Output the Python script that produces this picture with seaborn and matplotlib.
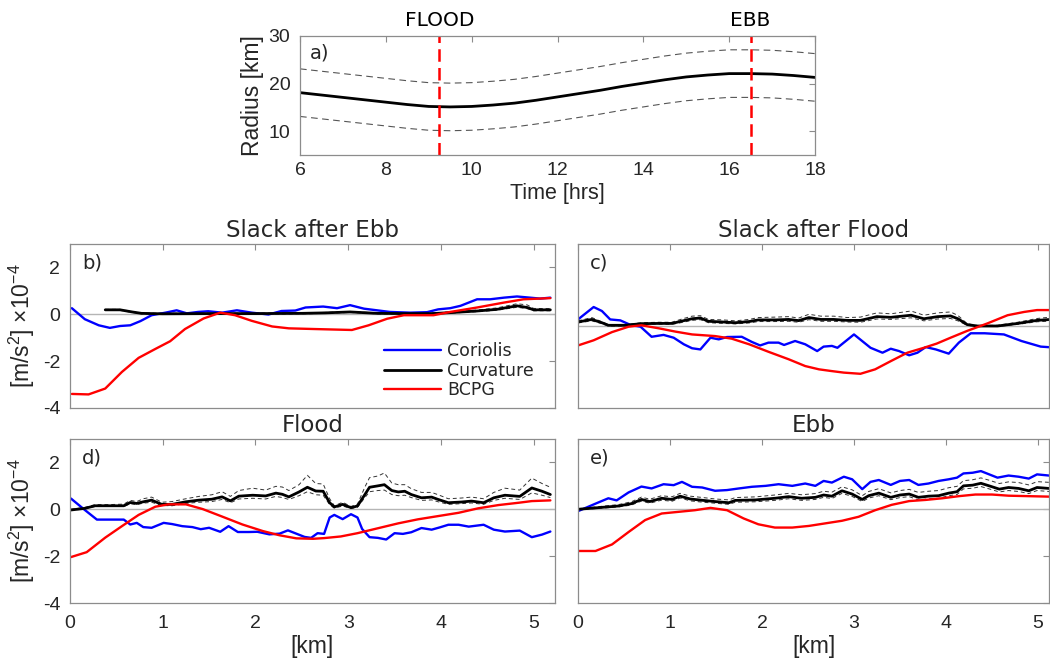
import matplotlib
matplotlib.use("Agg")
import matplotlib.pyplot as plt
import seaborn as sns

# ---------------- data ----------------
# panel a: radius vs time
time_hrs = [6.0, 6.5, 7.0, 7.5, 8.0, 8.5, 9.0, 9.5, 10.0, 10.5, 11.0, 11.5, 12.0,
            12.5, 13.0, 13.5, 14.0, 14.5, 15.0, 15.5, 16.0, 16.5, 17.0, 17.5, 18.0]
radius = [18.1, 17.6, 17.1, 16.6, 16.1, 15.6, 15.2, 15.1, 15.2, 15.5, 15.9, 16.5, 17.2,
          17.9, 18.6, 19.4, 20.1, 20.8, 21.4, 21.8, 22.1, 22.1, 22.0, 21.7, 21.3]
radius_upper = [23.1, 22.6, 22.1, 21.6, 21.1, 20.6, 20.2, 20.1, 20.2, 20.5, 20.9, 21.5, 22.2,
                22.9, 23.6, 24.4, 25.1, 25.8, 26.4, 26.8, 27.1, 27.1, 27.0, 26.7, 26.3]
radius_lower = [13.1, 12.6, 12.1, 11.6, 11.1, 10.6, 10.2, 10.1, 10.2, 10.5, 10.9, 11.5, 12.2,
                12.9, 13.6, 14.4, 15.1, 15.8, 16.4, 16.8, 17.1, 17.1, 17.0, 16.7, 16.3]
phase_times = [9.25, 16.5]
phase_labels = ["FLOOD", "EBB"]

# panel b: Slack after Ebb
b_cor_x = [0.02, 0.16, 0.31, 0.43, 0.54, 0.65, 0.76, 0.88, 1.03, 1.15, 1.26, 1.38, 1.49, 1.64, 1.8,
           1.96, 2.14, 2.28, 2.43, 2.54, 2.73, 2.88, 3.02, 3.17, 3.31, 3.45, 3.67, 3.85, 3.97, 4.1,
           4.21, 4.39, 4.53, 4.68, 4.82, 4.96, 5.07, 5.18]
b_cor = [0.26, -0.21, -0.47, -0.58, -0.5, -0.47, -0.29, -0.04, 0.07, 0.17, 0.04, 0.1, 0.13, 0.07, 0.17,
         0.07, -0.01, 0.14, 0.16, 0.29, 0.33, 0.26, 0.39, 0.24, 0.17, 0.1, 0.07, 0.09, 0.21, 0.26,
         0.36, 0.64, 0.64, 0.71, 0.76, 0.71, 0.67, 0.71]
b_bcpg_x = [0.02, 0.2, 0.38, 0.56, 0.74, 0.92, 1.08, 1.24, 1.44, 1.62, 1.78, 1.96, 2.18, 2.36, 2.64,
            3.04, 3.22, 3.42, 3.6, 3.92, 4.1, 4.39, 4.68, 4.89, 5.18]
b_bcpg = [-3.4, -3.42, -3.17, -2.46, -1.86, -1.48, -1.15, -0.63, -0.18, 0.07, -0.04, -0.28, -0.52, -0.6, -0.63,
          -0.67, -0.47, -0.19, -0.04, -0.04, 0.1, 0.29, 0.5, 0.64, 0.69]
b_curv_x = [0.38, 0.54, 0.67, 0.77, 1.0, 1.5, 2.0, 2.5, 2.75, 3.02, 3.31, 3.6, 3.9, 4.1, 4.39,
            4.6, 4.82, 4.93, 5.0, 5.18]
b_curv = [0.19, 0.19, 0.1, 0.04, 0.02, 0.03, 0.03, 0.04, 0.06, 0.1, 0.04, 0.03, 0.03, 0.07, 0.14,
          0.21, 0.36, 0.29, 0.19, 0.19]
b_curv_up = [0.21, 0.21, 0.12, 0.06, 0.04, 0.05, 0.05, 0.06, 0.08, 0.12, 0.06, 0.05, 0.05, 0.1, 0.18,
             0.27, 0.45, 0.4, 0.25, 0.24]
b_curv_lo = [0.17, 0.17, 0.08, 0.02, 0.0, 0.01, 0.01, 0.02, 0.04, 0.08, 0.02, 0.01, 0.01, 0.05, 0.11,
             0.17, 0.3, 0.24, 0.15, 0.15]

# panel c: Slack after Flood
c_cor_x = [0.0, 0.17, 0.26, 0.35, 0.46, 0.58, 0.68, 0.8, 0.93, 1.04, 1.15, 1.24, 1.33, 1.44, 1.53,
           1.62, 1.78, 1.89, 1.98, 2.07, 2.18, 2.24, 2.36, 2.47, 2.6, 2.67, 2.76, 2.82, 3.0, 3.18,
           3.31, 3.4, 3.49, 3.6, 3.69, 3.78, 3.89, 4.03, 4.14, 4.27, 4.42, 4.63, 4.82, 5.03, 5.14]
c_cor = [0.28, 0.81, 0.64, 0.28, 0.24, 0.03, -0.03, -0.46, -0.38, -0.5, -0.78, -0.95, -1.0, -0.5, -0.57,
         -0.47, -0.46, -0.68, -0.83, -0.71, -0.71, -0.81, -0.64, -0.78, -1.07, -0.88, -0.85, -0.93, -0.36, -0.93,
         -1.14, -0.97, -1.07, -1.25, -1.14, -0.9, -1.0, -1.18, -0.71, -0.31, -0.31, -0.36, -0.64, -0.88, -0.91]
c_bcpg_x = [0.0, 0.17, 0.37, 0.55, 0.69, 0.88, 1.06, 1.24, 1.49, 1.67, 1.86, 2.07, 2.29, 2.47, 2.62,
            2.75, 2.89, 3.07, 3.23, 3.4, 3.58, 3.76, 3.9, 4.05, 4.23, 4.45, 4.67, 4.85, 4.99, 5.14]
c_bcpg = [-0.83, -0.61, -0.26, -0.03, 0.03, -0.1, -0.24, -0.36, -0.43, -0.54, -0.78, -1.1, -1.42, -1.71, -1.85,
          -1.92, -1.99, -2.04, -1.85, -1.5, -1.14, -0.93, -0.75, -0.5, -0.21, 0.11, 0.46, 0.6, 0.68, 0.68]
c_curv_x = [0.0, 0.15, 0.26, 0.33, 0.51, 0.69, 0.88, 1.02, 1.13, 1.24, 1.33, 1.42, 1.58, 1.71, 1.86,
            1.96, 2.15, 2.29, 2.4, 2.51, 2.64, 2.78, 2.93, 3.07, 3.25, 3.4, 3.62, 3.76, 3.91, 4.05,
            4.13, 4.23, 4.34, 4.56, 4.78, 4.99, 5.14]
c_curv = [0.17, 0.28, 0.14, 0.03, 0.03, 0.1, 0.11, 0.11, 0.21, 0.31, 0.34, 0.2, 0.17, 0.14, 0.19,
          0.26, 0.26, 0.28, 0.23, 0.36, 0.28, 0.28, 0.24, 0.24, 0.4, 0.37, 0.46, 0.31, 0.4, 0.43,
          0.31, 0.06, 0.0, 0.0, 0.11, 0.24, 0.28]
c_curv_up = [0.22, 0.36, 0.18, 0.06, 0.06, 0.14, 0.16, 0.16, 0.3, 0.42, 0.44, 0.28, 0.26, 0.22, 0.28,
             0.36, 0.38, 0.4, 0.34, 0.5, 0.42, 0.42, 0.36, 0.38, 0.56, 0.52, 0.64, 0.46, 0.56, 0.6,
             0.45, 0.1, 0.02, 0.03, 0.16, 0.32, 0.38]
c_curv_lo = [0.13, 0.22, 0.1, 0.0, 0.0, 0.07, 0.08, 0.07, 0.15, 0.24, 0.27, 0.14, 0.11, 0.09, 0.13,
             0.19, 0.19, 0.2, 0.16, 0.27, 0.2, 0.2, 0.17, 0.16, 0.3, 0.28, 0.35, 0.22, 0.3, 0.32,
             0.22, 0.03, -0.02, -0.02, 0.07, 0.18, 0.21]

# panel d: Flood
d_cor_x = [0.01, 0.16, 0.29, 0.42, 0.58, 0.65, 0.72, 0.79, 0.88, 1.01, 1.1, 1.21, 1.32, 1.41, 1.5,
           1.62, 1.71, 1.81, 1.93, 2.02, 2.15, 2.26, 2.35, 2.44, 2.53, 2.6, 2.67, 2.74, 2.8, 2.85,
           2.94, 3.03, 3.1, 3.15, 3.23, 3.32, 3.41, 3.5, 3.59, 3.68, 3.79, 3.9, 3.99, 4.08, 4.19,
           4.3, 4.46, 4.57, 4.69, 4.85, 4.98, 5.09, 5.18]
d_cor = [0.46, -0.03, -0.44, -0.44, -0.44, -0.65, -0.58, -0.76, -0.79, -0.58, -0.63, -0.72, -0.76, -0.85, -0.79,
         -0.96, -0.72, -0.97, -0.97, -0.96, -1.07, -1.04, -0.9, -1.04, -1.18, -1.22, -1.02, -1.05, -0.35, -0.24,
         -0.42, -0.21, -0.35, -0.84, -1.19, -1.22, -1.29, -1.02, -1.05, -0.98, -0.8, -0.87, -0.77, -0.66, -0.66,
         -0.74, -0.66, -0.87, -0.95, -0.91, -1.19, -1.08, -0.95]
d_bcpg_x = [0.01, 0.18, 0.38, 0.56, 0.74, 0.92, 1.06, 1.25, 1.43, 1.64, 1.86, 2.08, 2.26, 2.44, 2.62,
            2.74, 2.92, 3.1, 3.32, 3.54, 3.75, 3.97, 4.19, 4.4, 4.62, 4.84, 4.98, 5.18]
d_bcpg = [-2.04, -1.83, -1.21, -0.72, -0.24, 0.11, 0.21, 0.21, 0.01, -0.31, -0.65, -0.93, -1.11, -1.24, -1.26,
          -1.23, -1.16, -1.02, -0.81, -0.6, -0.43, -0.29, -0.15, 0.04, 0.18, 0.28, 0.35, 0.38]
d_curv_x = [0.01, 0.16, 0.27, 0.42, 0.58, 0.65, 0.72, 0.79, 0.88, 0.99, 1.1, 1.25, 1.39, 1.53, 1.64,
            1.73, 1.82, 1.97, 2.11, 2.22, 2.29, 2.36, 2.47, 2.56, 2.65, 2.73, 2.8, 2.85, 2.94, 3.03,
            3.1, 3.18, 3.23, 3.32, 3.39, 3.47, 3.54, 3.61, 3.68, 3.79, 3.9, 3.97, 4.08, 4.22, 4.33,
            4.46, 4.57, 4.69, 4.85, 4.98, 5.09, 5.18]
d_curv = [-0.03, 0.04, 0.15, 0.15, 0.15, 0.29, 0.25, 0.32, 0.39, 0.21, 0.21, 0.32, 0.39, 0.43, 0.53,
          0.36, 0.56, 0.6, 0.57, 0.69, 0.64, 0.53, 0.74, 0.94, 0.78, 0.77, 0.28, 0.1, 0.21, 0.07,
          0.14, 0.63, 0.94, 1.0, 1.05, 0.8, 0.74, 0.77, 0.63, 0.49, 0.52, 0.42, 0.28, 0.31, 0.35,
          0.28, 0.49, 0.6, 0.55, 0.91, 0.77, 0.63]
d_curv_up = [0.0, 0.08, 0.2, 0.2, 0.22, 0.38, 0.33, 0.45, 0.52, 0.3, 0.33, 0.45, 0.55, 0.62, 0.75,
             0.55, 0.8, 0.9, 0.82, 0.98, 0.95, 0.8, 1.05, 1.45, 1.1, 1.08, 0.45, 0.15, 0.3, 0.12,
             0.22, 0.95, 1.35, 1.42, 1.55, 1.12, 1.05, 1.05, 0.88, 0.72, 0.72, 0.62, 0.45, 0.48, 0.52,
             0.45, 0.72, 0.9, 0.82, 1.33, 1.1, 0.94]
d_curv_lo = [-0.05, 0.02, 0.12, 0.12, 0.12, 0.24, 0.2, 0.26, 0.3, 0.16, 0.15, 0.25, 0.3, 0.33, 0.42,
             0.28, 0.44, 0.47, 0.44, 0.55, 0.5, 0.42, 0.58, 0.75, 0.62, 0.6, 0.2, 0.05, 0.14, 0.03,
             0.09, 0.5, 0.75, 0.8, 0.82, 0.63, 0.58, 0.6, 0.5, 0.38, 0.4, 0.32, 0.21, 0.24, 0.27,
             0.21, 0.38, 0.47, 0.42, 0.7, 0.6, 0.5]

# panel e: Ebb
e_cor_x = [0.0, 0.19, 0.33, 0.42, 0.55, 0.69, 0.8, 0.93, 1.04, 1.13, 1.24, 1.35, 1.49, 1.62, 1.75,
           1.89, 2.04, 2.18, 2.33, 2.47, 2.58, 2.67, 2.76, 2.89, 2.98, 3.09, 3.18, 3.27, 3.4, 3.5,
           3.6, 3.7, 3.81, 3.92, 4.03, 4.12, 4.19, 4.29, 4.38, 4.47, 4.56, 4.68, 4.79, 4.9, 4.99, 5.12]
e_cor = [-0.08, 0.24, 0.47, 0.38, 0.72, 0.97, 0.89, 1.07, 1.03, 1.17, 0.96, 0.93, 0.79, 0.82, 0.89,
         0.96, 1.0, 1.07, 1.0, 1.1, 1.0, 1.21, 1.14, 1.39, 1.28, 0.86, 1.17, 1.25, 1.04, 1.21,
         1.25, 1.04, 1.1, 1.21, 1.28, 1.35, 1.53, 1.56, 1.63, 1.49, 1.35, 1.44, 1.39, 1.31, 1.49, 1.44]
e_bcpg_x = [0.0, 0.19, 0.37, 0.55, 0.73, 0.91, 1.09, 1.27, 1.44, 1.62, 1.8, 1.96, 2.14, 2.33, 2.51,
            2.69, 2.87, 3.05, 3.23, 3.41, 3.6, 3.78, 3.96, 4.14, 4.32, 4.5, 4.68, 4.9, 5.12]
e_bcpg = [-1.78, -1.78, -1.5, -0.97, -0.46, -0.18, -0.11, -0.04, 0.06, -0.04, -0.39, -0.64, -0.78, -0.78, -0.71,
          -0.6, -0.49, -0.32, -0.04, 0.19, 0.35, 0.4, 0.47, 0.56, 0.63, 0.63, 0.58, 0.56, 0.54]
e_curv_x = [0.0, 0.19, 0.44, 0.58, 0.69, 0.78, 0.91, 1.02, 1.11, 1.22, 1.36, 1.49, 1.64, 1.71, 1.93,
            2.14, 2.29, 2.43, 2.58, 2.67, 2.76, 2.87, 2.98, 3.09, 3.16, 3.27, 3.4, 3.5, 3.6, 3.7,
            3.81, 3.92, 4.03, 4.12, 4.19, 4.29, 4.38, 4.47, 4.58, 4.68, 4.79, 4.9, 4.99, 5.12]
e_curv = [0.0, 0.06, 0.14, 0.24, 0.42, 0.33, 0.47, 0.42, 0.56, 0.44, 0.38, 0.33, 0.28, 0.38, 0.4,
          0.47, 0.54, 0.47, 0.51, 0.61, 0.56, 0.79, 0.65, 0.42, 0.58, 0.69, 0.51, 0.61, 0.65, 0.51,
          0.56, 0.58, 0.69, 0.75, 1.0, 1.03, 1.11, 1.0, 0.86, 0.93, 0.89, 0.79, 0.93, 0.89]
e_curv_up = [0.02, 0.1, 0.2, 0.32, 0.52, 0.43, 0.58, 0.53, 0.68, 0.56, 0.5, 0.44, 0.4, 0.5, 0.53,
             0.61, 0.68, 0.62, 0.67, 0.77, 0.73, 0.96, 0.83, 0.58, 0.76, 0.88, 0.7, 0.8, 0.85, 0.72,
             0.77, 0.8, 0.92, 0.98, 1.22, 1.26, 1.34, 1.24, 1.1, 1.17, 1.14, 1.04, 1.18, 1.15]
e_curv_lo = [-0.02, 0.03, 0.1, 0.18, 0.35, 0.26, 0.39, 0.34, 0.48, 0.36, 0.3, 0.26, 0.21, 0.3, 0.32,
             0.38, 0.45, 0.38, 0.42, 0.51, 0.46, 0.68, 0.55, 0.33, 0.48, 0.58, 0.41, 0.5, 0.54, 0.4,
             0.45, 0.47, 0.58, 0.63, 0.87, 0.9, 0.97, 0.87, 0.74, 0.8, 0.76, 0.67, 0.8, 0.76]

panel_titles = ["Slack after Ebb", "Slack after Flood", "Flood", "Ebb"]
panel_letters = ["b)", "c)", "d)", "e)"]
series_names = ["Coriolis", "Curvature", "BCPG"]

# ---------------- style ----------------
sns.set_style("white")
plt.rcParams["font.family"] = ["Liberation Sans", "DejaVu Sans"]
plt.rcParams["mathtext.default"] = "regular"
plt.rcParams["axes.unicode_minus"] = False

SPINE = "#8c8c8c"
TXT = "#262626"
BLUE = "#0000ff"
RED = "#ff0000"

fig = plt.figure(figsize=(10.5, 6.66), dpi=100)
W, H = 1050.0, 666.0


def box(l, t, r, b):
    return [l / W, 1 - b / H, (r - l) / W, (b - t) / H]


def style_axes(ax, ylabels=True, xlabels=True, yt=True):
    for s in ax.spines.values():
        s.set_color(SPINE)
        s.set_linewidth(0.9)
    ax.tick_params(direction="in", length=4, width=0.8, color=SPINE, top=True, right=True,
                   labelsize=14, labelcolor=TXT, pad=7,
                   labelbottom=xlabels, labelleft=ylabels)
    if not yt:
        ax.tick_params(axis="y", length=0)


def dline(ax, x, y, color, lw, dash=None):
    sns.lineplot(x=x, y=y, ax=ax, color=color, lw=lw, sort=False, estimator=None,
                 legend=False)
    ln = ax.lines[-1]
    if dash is not None:
        ln.set_dashes(dash)
    return ln


# ---------------- panel a ----------------
axa = fig.add_axes(box(300, 36, 815, 155))
dline(axa, time_hrs, radius_upper, "#555555", 0.8, (6, 4))
dline(axa, time_hrs, radius_lower, "#555555", 0.8, (6, 4))
dline(axa, time_hrs, radius, "black", 2.0)
for t, lab in zip(phase_times, phase_labels):
    axa.axvline(t, color=RED, lw=1.8, dashes=(5, 2.5))
    axa.text(t, 1.05, lab, transform=axa.get_xaxis_transform(), ha="center", va="bottom",
             fontsize=14.5, family="DejaVu Sans", color="black")
axa.set_xlim(6, 18)
axa.set_ylim(5, 30)
axa.set_xticks([6, 8, 10, 12, 14, 16, 18])
axa.set_yticks([10, 20, 30])
style_axes(axa)
axa.tick_params(axis="x", pad=5)
axa.set_xlabel("Time [hrs]", fontsize=15.5, color=TXT, labelpad=3)
axa.set_ylabel("Radius [km]", fontsize=16.5, color=TXT, labelpad=3)
axa.text(0.02, 0.86, "a)", transform=axa.transAxes, fontsize=14, family="DejaVu Sans",
         va="center", ha="left")

# ---------------- panels b-e ----------------
panels = [
    dict(box=(70, 244, 555, 408), xlim=(0, 5.23), ylim=(-4, 3),
         cor=(b_cor_x, b_cor), bcpg=(b_bcpg_x, b_bcpg),
         curv=(b_curv_x, b_curv, b_curv_up, b_curv_lo), ylab=True, xlab=False, yt=True),
    dict(box=(578, 244, 1049, 408), xlim=(0, 5.12), ylim=(-3.5, 3.5),
         cor=(c_cor_x, c_cor), bcpg=(c_bcpg_x, c_bcpg),
         curv=(c_curv_x, c_curv, c_curv_up, c_curv_lo), ylab=False, xlab=False, yt=False),
    dict(box=(70, 439, 555, 603), xlim=(0, 5.23), ylim=(-4, 3),
         cor=(d_cor_x, d_cor), bcpg=(d_bcpg_x, d_bcpg),
         curv=(d_curv_x, d_curv, d_curv_up, d_curv_lo), ylab=True, xlab=True, yt=True),
    dict(box=(578, 439, 1049, 603), xlim=(0, 5.12), ylim=(-4, 3),
         cor=(e_cor_x, e_cor), bcpg=(e_bcpg_x, e_bcpg),
         curv=(e_curv_x, e_curv, e_curv_up, e_curv_lo), ylab=False, xlab=True, yt=True),
]

axes = []
for i, p in enumerate(panels):
    ax = fig.add_axes(box(*p["box"]))
    axes.append(ax)
    ax.axhline(0, color="#b5b5b5", lw=1.0, zorder=1)
    cx, cy, cu, cl = p["curv"]
    dline(ax, cx, cu, "#333333", 0.7, (4, 3))
    dline(ax, cx, cl, "#333333", 0.7, (4, 3))
    h_cor = dline(ax, p["cor"][0], p["cor"][1], BLUE, 1.7)
    h_curv = dline(ax, cx, cy, "black", 2.0)
    h_bcpg = dline(ax, p["bcpg"][0], p["bcpg"][1], RED, 1.7)
    ax.set_xlim(*p["xlim"])
    ax.set_ylim(*p["ylim"])
    ax.set_xticks([0, 1, 2, 3, 4, 5])
    ax.set_yticks([-4, -2, 0, 2] if p["yt"] else [])
    ax.set_title(panel_titles[i], fontsize=16.5, family="DejaVu Sans", pad=5)
    ax.text(0.025, 0.885, panel_letters[i], transform=ax.transAxes, fontsize=14,
            family="DejaVu Sans", va="center", ha="left")
    style_axes(ax, ylabels=p["ylab"], xlabels=p["xlab"], yt=p["yt"])
    if p["xlab"]:
        ax.tick_params(axis="x", pad=9)
    if p["ylab"]:
        ax.set_ylabel(r"[m/s$^{2}$] $\times$10$^{-4}$", fontsize=16.5, color=TXT, labelpad=4)
    if p["xlab"]:
        ax.set_xlabel("[km]", fontsize=16.5, color=TXT, labelpad=2)
    if i == 0:
        leg = ax.legend([h_cor, h_curv, h_bcpg], series_names, loc="upper left",
                        bbox_to_anchor=(0.647, 0.40), frameon=False, borderpad=0,
                        borderaxespad=0, handlelength=3.3, handletextpad=0.35,
                        labelspacing=0.08, prop={"family": "DejaVu Sans", "size": 12.5})

fig.savefig("out.png", dpi=100)
